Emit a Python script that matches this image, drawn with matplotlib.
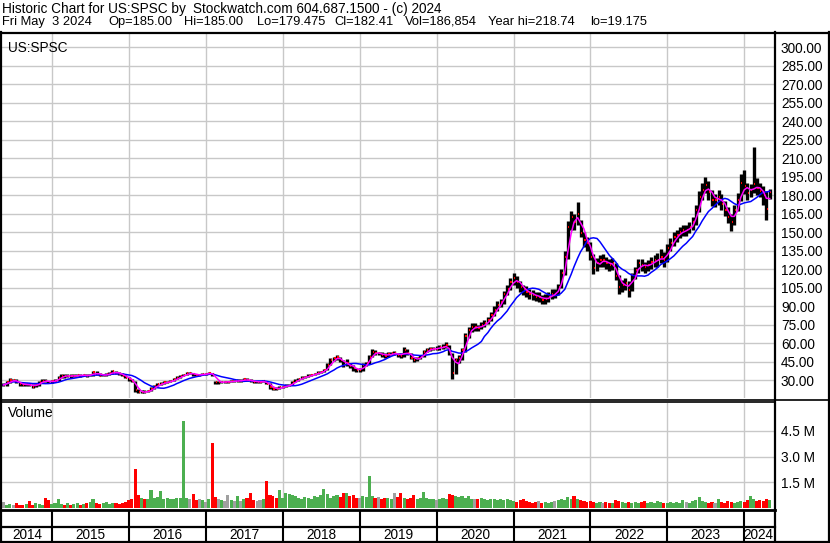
import matplotlib
matplotlib.use("Agg")
import matplotlib.pyplot as plt
import matplotlib.dates as mdates
from matplotlib.lines import Line2D
import pandas as pd

plt.rcParams["font.family"] = ["Liberation Sans", "DejaVu Sans"]

# --- data (semi-monthly bars) ---
dates = pd.date_range("2014-05-15", "2024-05-01", freq="SMS")

close = [
    # 2014
    26, 28, 30, 30, 28, 26.5, 26, 26.5, 26, 24.5, 26, 28.5, 29.5, 29, 28.5,
    # 2015
    29, 29.5, 32, 33.5, 33, 33.5, 33, 33.5, 34, 33.5, 34, 33.5, 34, 36.5, 35, 33.5, 34, 34.5, 35.5, 37, 35.5, 35, 33.5, 32,
    # 2016
    30.5, 29, 22, 20, 20.5, 20, 21, 23, 25, 26.5, 27, 28, 28.5, 29, 30.5, 32, 33, 34, 35.5, 35.5, 34.5, 34, 34, 35,
    # 2017
    35, 35.5, 34.5, 28, 28, 28.5, 28.5, 28.5, 29, 29, 29.5, 29.5, 30.5, 30, 29, 28.5, 28.5, 28.5, 29, 27, 24, 23, 22.5, 24,
    # 2018
    24.5, 25.5, 26, 28, 29.5, 31, 32, 32.5, 33.5, 34, 35, 36, 36.5, 38, 42, 46, 47.5, 48.5, 46, 42, 43.5, 41, 39.5, 38,
    # 2019
    38, 42, 43.5, 49, 53, 51.5, 51.5, 50.5, 49.5, 51, 51.5, 51.5, 50.5, 49.5, 54, 51.5, 47.5, 46, 47.5, 49, 53, 54.5, 55, 55.5,
    # 2020
    55.5, 56.5, 57, 58, 51.5, 36, 46, 47.5, 54, 66, 70.5, 73, 73, 72, 74.5, 76, 78.5, 82.5, 87, 91, 93.5, 100, 104, 109.5,
    # 2021
    112.5, 109.5, 105.5, 103, 101.5, 100, 99, 97.5, 97.5, 95, 96, 97.5, 100, 100, 105.5, 116.5, 130, 154, 162, 158, 165, 149, 143.5, 141,
    # 2022
    130, 120.5, 124.5, 127, 127, 124.5, 123, 124.5, 114, 105.5, 107, 108.5, 103, 115, 119, 124.5, 123, 122, 123, 126, 127, 127.5, 130, 127,
    # 2023
    137, 141, 146, 147.5, 150, 151.5, 151.5, 154, 158, 168, 178.5, 184, 188, 182.5, 176, 176, 178.5, 173, 168, 162, 158, 168, 176, 189.5,
    # 2024
    187, 181.5, 184, 189, 185.5, 183, 180, 169, 182.41,
]

high = [
    27.5, 29, 31.5, 31, 30.5, 28.5, 27.5, 27.5, 27.5, 26.5, 27, 29.5, 30.5, 30.5, 29.5,
    30, 30.5, 33, 34.5, 34.5, 34.5, 34.5, 34.5, 35, 35, 35, 35, 35, 37.5, 37, 35.5, 35, 35.5, 36.5, 38, 37.5, 36.5, 35.5, 34,
    32.5, 31, 29.5, 22.5, 21.5, 21.5, 22, 24, 26, 27.5, 28, 29, 29.5, 30, 31.5, 33, 34, 35, 36.5, 36.5, 36, 35, 35, 36,
    36, 36.5, 36, 29.5, 29, 29.5, 29.5, 29.5, 30, 30, 30.5, 30.5, 31.5, 31.5, 30.5, 29.5, 29.5, 29.5, 30, 29.5, 27.5, 24.5, 24, 25,
    25.5, 26.5, 27, 29, 30.5, 32, 33, 33.5, 34.5, 35, 36, 37, 37.5, 39, 43.5, 47.5, 49, 50.5, 49, 46, 47, 44, 42, 40,
    40, 43.5, 45, 50.5, 55, 54, 53, 52.5, 51.5, 52.5, 53, 53.5, 52, 51.5, 56.5, 55, 52, 48.5, 49, 50.5, 54.5, 56, 56.5, 57,
    57.5, 58, 59, 61, 58.5, 52, 48, 50, 56, 68, 73, 76, 76, 75, 77, 79, 81, 85, 90, 94, 96, 102, 107, 113,
    117, 114, 110, 107, 106, 104, 103, 101, 101, 99, 99.5, 101, 104, 104, 108, 120, 135, 159, 167, 165, 174, 160, 150, 146,
    142, 132, 129, 131, 132, 130, 128, 129, 125, 115, 111, 113, 110, 117, 122, 128, 128, 126, 127, 130, 131, 133, 136, 134,
    140, 145, 150, 152, 154, 156, 156, 158, 162, 172, 183, 190, 195, 191, 184, 181, 184, 181, 175, 170, 165, 172, 182, 197,
    200, 190, 189, 218.74, 194, 190, 187, 183, 185,
]

low = [
    25, 25.5, 27.5, 29, 27.5, 25.5, 25, 25.5, 25, 23.5, 24, 25.5, 28, 28, 27.5,
    27.5, 28, 29, 31.5, 32, 32.5, 32, 32.5, 33, 32.5, 33, 32.5, 33, 33.5, 34, 33, 33, 33.5, 34, 35, 35, 34, 33, 31.5,
    29.5, 28, 20.5, 19.175, 19.5, 19.5, 20, 21, 23, 25, 26, 27, 27.5, 28, 29, 30.5, 32, 33, 34, 34.5, 33.5, 33, 33, 34,
    34, 34.5, 33.5, 26.5, 27, 27.5, 27.5, 27.5, 28, 28, 28.5, 28.5, 29, 29, 28, 27.5, 27.5, 27.5, 28, 26.5, 23, 22, 21.5, 22.5,
    23.5, 24, 25, 26, 28, 29.5, 30.5, 31.5, 32.5, 33, 34, 35, 35.5, 36.5, 38.5, 42, 45.5, 46.5, 44.5, 40.5, 41, 39.5, 37.5, 36.5,
    36.5, 37.5, 41.5, 43, 48.5, 50, 50, 49, 48, 49, 50, 50, 49, 48, 49, 50.5, 47, 44.5, 45.5, 47, 48.5, 52.5, 53.5, 54,
    54, 54.5, 55.5, 56, 50, 30.5, 35, 44, 46.5, 53, 64, 69, 70, 69.5, 71, 73, 75.5, 78, 82, 86, 89, 92, 99, 103,
    107, 105, 101, 99, 97.5, 96, 95, 94, 93.5, 91.5, 92, 93.5, 96, 96.5, 99, 105, 115, 128, 152, 152, 156, 146, 138, 135,
    127, 116, 118, 122, 122, 120, 118, 119, 111, 100, 101, 103, 97, 102, 112, 117, 118, 117, 118, 120, 122, 122, 125, 122,
    126, 135, 139, 142, 145, 147, 147, 149, 152, 156, 166, 176, 182, 176, 171, 170, 172, 168, 163, 157, 151, 156, 167, 175,
    181, 176, 178, 182, 180, 178, 172, 160, 177,
]

# volume in millions of shares
volume = [
    0.35, 0.2, 0.25, 0.15, 0.3, 0.2, 0.15, 0.25, 0.4, 0.2, 0.3, 0.25, 0.2, 0.6, 0.45,
    0.25, 0.3, 0.5, 0.25, 0.2, 0.3, 0.2, 0.25, 0.3, 0.2, 0.25, 0.3, 0.35, 0.5, 0.3, 0.25, 0.3, 0.35, 0.25, 0.3, 0.3, 0.25, 0.3, 0.35,
    0.45, 0.5, 2.3, 0.75, 0.6, 0.55, 0.5, 1.05, 0.6, 0.65, 1.0, 0.55, 0.6, 0.5, 0.55, 0.6, 0.6, 5.1, 0.6, 0.5, 0.8, 0.45, 0.5, 0.45,
    0.35, 0.5, 3.8, 0.65, 0.5, 0.45, 0.4, 0.75, 0.45, 0.4, 0.7, 0.4, 0.55, 0.6, 0.9, 0.45, 0.4, 0.45, 0.5, 1.55, 0.75, 0.7, 0.6, 1.05,
    0.6, 0.85, 0.8, 0.75, 0.7, 0.6, 0.55, 0.65, 0.6, 0.55, 0.7, 0.65, 0.75, 1.1, 0.8, 0.6, 0.7, 0.75, 0.65, 0.85, 0.9, 0.7, 0.75, 0.6,
    0.6, 0.7, 0.65, 1.85, 0.7, 0.6, 0.65, 0.55, 0.6, 0.6, 0.55, 0.85, 0.65, 0.85, 0.6, 0.5, 0.6, 0.75, 0.55, 0.6, 0.95, 0.6, 0.5, 0.55,
    0.45, 0.55, 0.6, 0.5, 0.8, 0.75, 0.7, 0.65, 0.7, 0.6, 0.7, 0.55, 0.5, 0.55, 0.6, 0.5, 0.45, 0.55, 0.5, 0.45, 0.5, 0.45, 0.55, 0.45,
    0.4, 0.35, 0.45, 0.55, 0.4, 0.35, 0.3, 0.35, 0.4, 0.3, 0.35, 0.3, 0.35, 0.4, 0.45, 0.55, 0.45, 0.65, 0.5, 0.7, 0.55, 0.45, 0.4, 0.35,
    0.4, 0.35, 0.3, 0.35, 0.3, 0.35, 0.3, 0.3, 0.45, 0.4, 0.35, 0.3, 0.35, 0.3, 0.35, 0.3, 0.35, 0.4, 0.3, 0.35, 0.3, 0.4, 0.35, 0.3,
    0.3, 0.35, 0.3, 0.35, 0.3, 0.45, 0.35, 0.3, 0.4, 0.45, 0.65, 0.4, 0.35, 0.3, 0.35, 0.3, 0.5, 0.35, 0.3, 0.4, 0.35, 0.3, 0.35, 0.4,
    0.35, 0.45, 0.7, 0.5, 0.4, 0.45, 0.4, 0.55, 0.45,
]

years = list(range(2014, 2025))
price_ticks = list(range(30, 301, 15))
vol_ticks = [1.5, 3.0, 4.5]

header1 = [(2, "Historic Chart for US:SPSC by"),
           (193, "Stockwatch.com 604.687.1500 - (c) 2024")]
header2 = [(2, "Fri May  3 2024"), (108, "Op=185.00"), (184, "Hi=185.00"),
           (257, "Lo=179.475"), (334, "Cl=182.41"), (405, "Vol=186,854"),
           (488, "Year hi=218.74"), (590, "lo=19.175")]

# --- layout in pixels ---
W, H = 830, 543
FS = 9.8
GRID = "#c8c8c8"


def box(x0, y0, x1, y1):
    return [x0 / W, 1 - y1 / H, (x1 - x0) / W, (y1 - y0) / H]


def hline(y, x0, x1, lw):
    fig.add_artist(Line2D([x0 / W, x1 / W], [1 - y / H, 1 - y / H], color="black", lw=lw))


def vline(x, y0, y1, lw):
    fig.add_artist(Line2D([x / W, x / W], [1 - y0 / H, 1 - y1 / H], color="black", lw=lw))


x = mdates.date2num(dates)
d15 = mdates.date2num(pd.Timestamp("2015-01-01"))
px_day = 76.92 / 365.25
xlim = (d15 - 50 / px_day, d15 + 722 / px_day)
year_x = [mdates.date2num(pd.Timestamp(f"{y}-01-01")) for y in years[1:]]

s = pd.Series(close)
ma_fast = s.rolling(3, min_periods=1).mean()
ma_slow = s.rolling(10, min_periods=1).mean()

fig = plt.figure(figsize=(W / 100, H / 100), dpi=100)
fig.patch.set_facecolor("white")

# price panel
ax = fig.add_axes(box(2, 34, 774, 398))
ax.set_xlim(*xlim)
ax.set_ylim(30 - 18 / 1.2333, 30 + 346 / 1.2333)
ax.set_xticks(year_x)
ax.set_yticks(price_ticks)
ax.set_yticklabels([f"{v:.2f}" for v in price_ticks])
ax.yaxis.tick_right()
ax.tick_params(axis="y", length=0, pad=5, labelsize=FS)
ax.tick_params(axis="x", length=0, labelbottom=False)
ax.grid(True, color=GRID, lw=1.0)
ax.set_axisbelow(True)
for sp in ax.spines.values():
    sp.set_visible(False)
ax.vlines(x, low, high, color="black", lw=2.4, zorder=2)
ax.hlines(close, x + 2, x + 8, color="red", lw=1.5, zorder=3)
ax.plot(x, ma_slow, color="#0000ff", lw=1.1, zorder=4)
ax.plot(x, ma_fast, color="#ff00ff", lw=1.1, zorder=5)
ax.text(6 / 772, 1 - 7 / 364, "US:SPSC", transform=ax.transAxes, fontsize=FS, va="top")

# volume panel
vax = fig.add_axes(box(2, 403, 774, 508))
vax.set_xlim(*xlim)
vax.set_ylim(0, 105 * 1.5 / 25.7)
vax.set_xticks(year_x)
vax.set_yticks(vol_ticks)
vax.set_yticklabels([f"{v:.1f} M" for v in vol_ticks])
vax.yaxis.tick_right()
vax.tick_params(axis="y", length=0, pad=5, labelsize=FS)
vax.tick_params(axis="x", length=0, labelbottom=False)
vax.grid(True, color=GRID, lw=1.0)
vax.set_axisbelow(True)
for sp in vax.spines.values():
    sp.set_visible(False)
colors = []
for i, c in enumerate(close):
    prev = close[i - 1] if i else c
    colors.append("#4caf50" if c > prev else ("#ff0000" if c < prev else "#a0a0a0"))
vax.bar(x, volume, width=15, color=colors, lw=0, zorder=2)
vax.text(6 / 772, 1 - 3 / 105, "Volume", transform=vax.transAxes, fontsize=FS, va="top")

# footer with years
fax = fig.add_axes(box(2, 510, 774, 542))
fax.set_xlim(*xlim)
fax.set_ylim(0, 32)
fax.axis("off")
fax.vlines(year_x, 0, 32, color="black", lw=1.5)
bounds = [xlim[0]] + year_x + [xlim[1] - 1.5 / px_day]
for y, a, b in zip(years, bounds[:-1], bounds[1:]):
    fax.text((a + b) / 2, 7, str(y), ha="center", va="center", fontsize=FS)

# borders
hline(32.5, 0, 830, 1.6)
vline(0.8, 32, 542, 1.6)
vline(774.5, 32, 542, 1.6)
vline(828.5, 32, 542, 1.6)
hline(399.5, 0, 830, 1.2)
hline(402.3, 0, 775, 1.2)
hline(509.5, 0, 775, 2.0)
hline(527, 0, 775, 1.6)
hline(541.8, 0, 830, 1.6)

for xp, t in header1:
    fig.text(xp / W, 1 - 9 / H, t, fontsize=FS, va="center")
for xp, t in header2:
    fig.text(xp / W, 1 - 22 / H, t, fontsize=9.3, va="center")

fig.savefig("out.png", dpi=100)
